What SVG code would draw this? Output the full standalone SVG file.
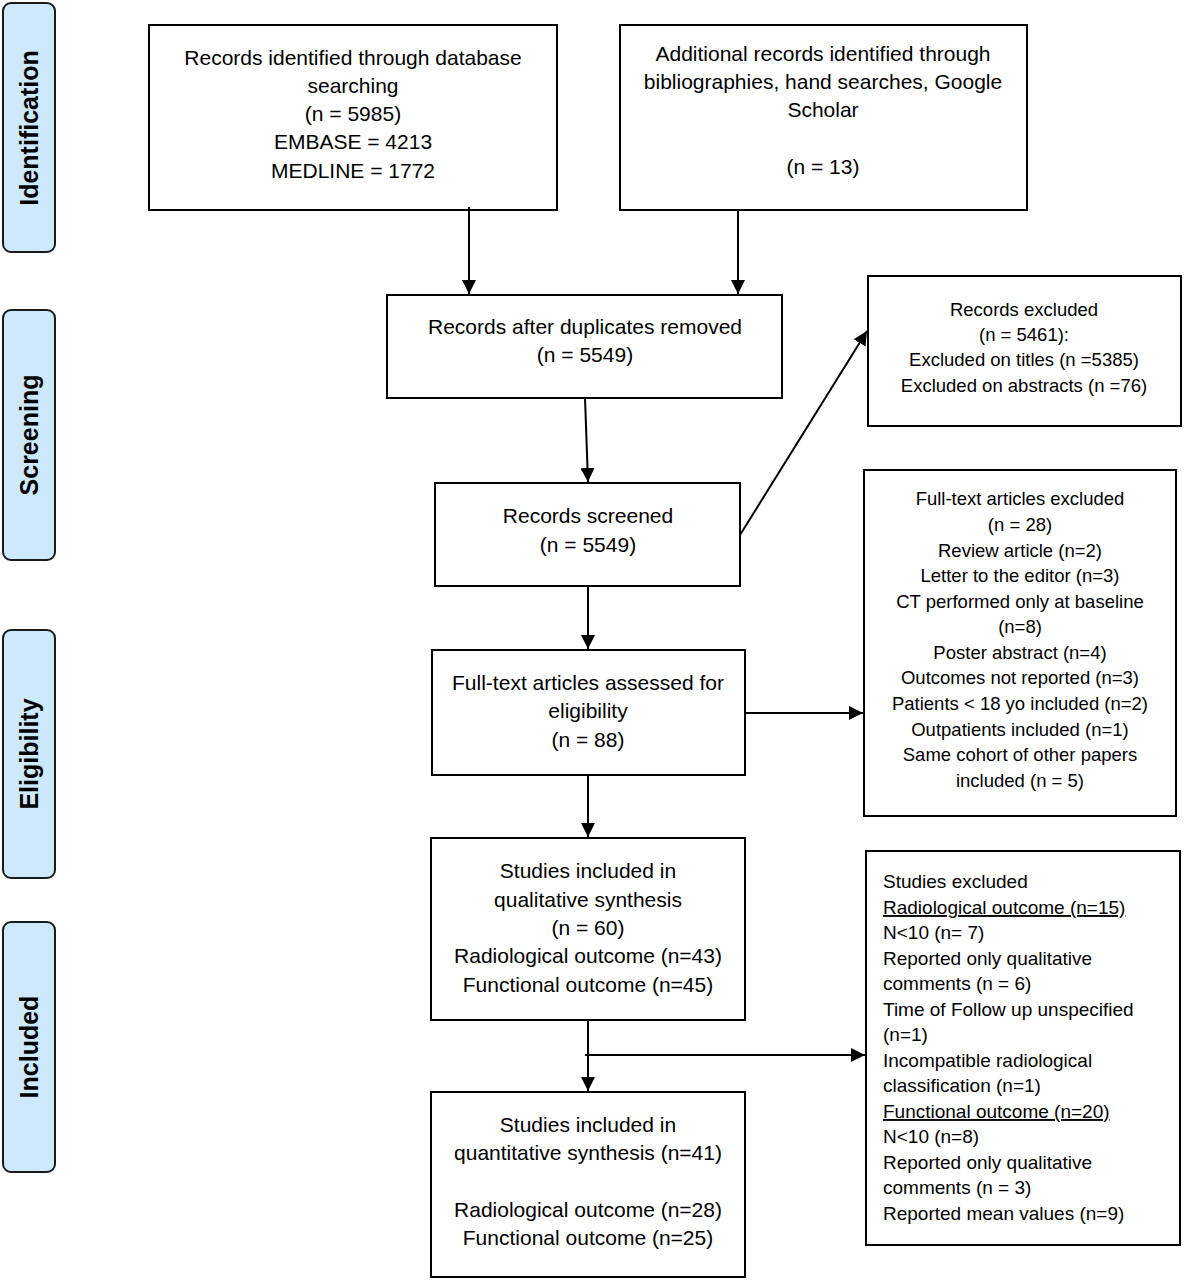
<svg xmlns="http://www.w3.org/2000/svg" width="1184" height="1280" viewBox="0 0 1184 1280">
<defs>
<marker id="ah" viewBox="0 0 10 10" refX="10" refY="5" markerWidth="14" markerHeight="14" markerUnits="userSpaceOnUse" orient="auto">
<path d="M0,0 L10,5 L0,10 z" fill="#000"/>
</marker>
<style>
.box{fill:#fff;stroke:#000;stroke-width:2}
.side{fill:#cde9fb;stroke:#1a1a1a;stroke-width:2}
.t{font-family:"Liberation Sans",Arial,sans-serif;font-size:21px;fill:#000;text-anchor:middle}
.s{font-family:"Liberation Sans",Arial,sans-serif;font-size:18.5px;fill:#000;text-anchor:middle}
.l{font-family:"Liberation Sans",Arial,sans-serif;font-size:19px;fill:#000}
.lab{font-family:"Liberation Sans",Arial,sans-serif;font-size:25px;font-weight:bold;fill:#000;text-anchor:middle}
.c{stroke:#000;stroke-width:2;fill:none;marker-end:url(#ah)}
</style>
</defs>
<rect width="1184" height="1280" fill="#fff"/>

<g id="side-identification"><rect class="side" x="3" y="3" width="52" height="249" rx="8"/><text class="lab" transform="translate(38,128) rotate(-90)">Identification</text></g>
<g id="side-screening"><rect class="side" x="3" y="310" width="52" height="250" rx="8"/><text class="lab" transform="translate(38,435) rotate(-90)">Screening</text></g>
<g id="side-eligibility"><rect class="side" x="3" y="630" width="52" height="248" rx="8"/><text class="lab" transform="translate(38,754) rotate(-90)">Eligibility</text></g>
<g id="side-included"><rect class="side" x="3" y="922" width="52" height="250" rx="8"/><text class="lab" transform="translate(38,1047) rotate(-90)">Included</text></g>

<g id="n-identified"><rect class="box" x="149" y="25" width="408" height="185"/>
<text class="t" x="353" y="65">Records identified through database</text>
<text class="t" x="353" y="93">searching</text>
<text class="t" x="353" y="121">(n = 5985)</text>
<text class="t" x="353" y="149">EMBASE = 4213</text>
<text class="t" x="353" y="178">MEDLINE = 1772</text></g>

<g id="n-additional"><rect class="box" x="620" y="25" width="407" height="185"/>
<text class="t" x="823" y="61">Additional records identified through</text>
<text class="t" x="823" y="89">bibliographies, hand searches, Google</text>
<text class="t" x="823" y="117">Scholar</text>
<text class="t" x="823" y="174">(n = 13)</text></g>

<g id="n-duplicates"><rect class="box" x="387" y="295" width="395" height="103"/>
<text class="t" x="585" y="334">Records after duplicates removed</text>
<text class="t" x="585" y="362">(n = 5549)</text></g>

<g id="n-excluded1"><rect class="box" x="868" y="276" width="313" height="150"/>
<text class="s" x="1024" y="316">Records excluded</text>
<text class="s" x="1024" y="341">(n = 5461):</text>
<text class="s" x="1024" y="366">Excluded on titles (n =5385)</text>
<text class="s" x="1024" y="392">Excluded on abstracts (n =76)</text></g>

<g id="n-screened"><rect class="box" x="435" y="483" width="305" height="103"/>
<text class="t" x="588" y="523">Records screened</text>
<text class="t" x="588" y="552">(n = 5549)</text></g>

<g id="n-excluded2"><rect class="box" x="864" y="470" width="312" height="346"/>
<text class="s" x="1020" y="505">Full-text articles excluded</text>
<text class="s" x="1020" y="531">(n = 28)</text>
<text class="s" x="1020" y="557">Review article (n=2)</text>
<text class="s" x="1020" y="582">Letter to the editor (n=3)</text>
<text class="s" x="1020" y="608">CT performed only at baseline</text>
<text class="s" x="1020" y="633">(n=8)</text>
<text class="s" x="1020" y="659">Poster abstract (n=4)</text>
<text class="s" x="1020" y="684">Outcomes not reported (n=3)</text>
<text class="s" x="1020" y="710">Patients &lt; 18 yo included (n=2)</text>
<text class="s" x="1020" y="736">Outpatients included (n=1)</text>
<text class="s" x="1020" y="761">Same cohort of other papers</text>
<text class="s" x="1020" y="787">included (n = 5)</text></g>

<g id="n-assessed"><rect class="box" x="432" y="650" width="313" height="125"/>
<text class="t" x="588" y="690">Full-text articles assessed for</text>
<text class="t" x="588" y="718">eligibility</text>
<text class="t" x="588" y="747">(n = 88)</text></g>

<g id="n-qualitative"><rect class="box" x="431" y="838" width="314" height="182"/>
<text class="t" x="588" y="878">Studies included in</text>
<text class="t" x="588" y="907">qualitative synthesis</text>
<text class="t" x="588" y="935">(n = 60)</text>
<text class="t" x="588" y="963">Radiological outcome (n=43)</text>
<text class="t" x="588" y="992">Functional outcome (n=45)</text></g>

<g id="n-excluded3"><rect class="box" x="866" y="851" width="314" height="394"/>
<text class="l" x="883" y="888">Studies excluded</text>
<text class="l" x="883" y="914" text-decoration="underline">Radiological outcome (n=15)</text>
<text class="l" x="883" y="939">N&lt;10 (n= 7)</text>
<text class="l" x="883" y="965">Reported only qualitative</text>
<text class="l" x="883" y="990">comments (n = 6)</text>
<text class="l" x="883" y="1016">Time of Follow up unspecified</text>
<text class="l" x="883" y="1041">(n=1)</text>
<text class="l" x="883" y="1067">Incompatible radiological</text>
<text class="l" x="883" y="1092">classification (n=1)</text>
<text class="l" x="883" y="1118" text-decoration="underline">Functional outcome (n=20)</text>
<text class="l" x="883" y="1143">N&lt;10 (n=8)</text>
<text class="l" x="883" y="1169">Reported only qualitative</text>
<text class="l" x="883" y="1194">comments (n = 3)</text>
<text class="l" x="883" y="1220">Reported mean values (n=9)</text></g>

<g id="n-quantitative"><rect class="box" x="431" y="1092" width="314" height="185"/>
<text class="t" x="588" y="1132">Studies included in</text>
<text class="t" x="588" y="1160">quantitative synthesis (n=41)</text>
<text class="t" x="588" y="1217">Radiological outcome (n=28)</text>
<text class="t" x="588" y="1245">Functional outcome (n=25)</text></g>

<g id="connectors">
<line class="c" x1="469" y1="207" x2="469" y2="294"/>
<line class="c" x1="738" y1="210" x2="738" y2="294"/>
<line class="c" x1="585" y1="398" x2="588" y2="482"/>
<line class="c" x1="740" y1="535" x2="867" y2="331"/>
<line class="c" x1="588" y1="586" x2="588" y2="649"/>
<line class="c" x1="745" y1="713" x2="863" y2="713"/>
<line class="c" x1="588" y1="775" x2="588" y2="837"/>
<line class="c" x1="588" y1="1020" x2="588" y2="1091"/>
<line class="c" x1="585" y1="1055" x2="865" y2="1055"/>
</g>
</svg>
